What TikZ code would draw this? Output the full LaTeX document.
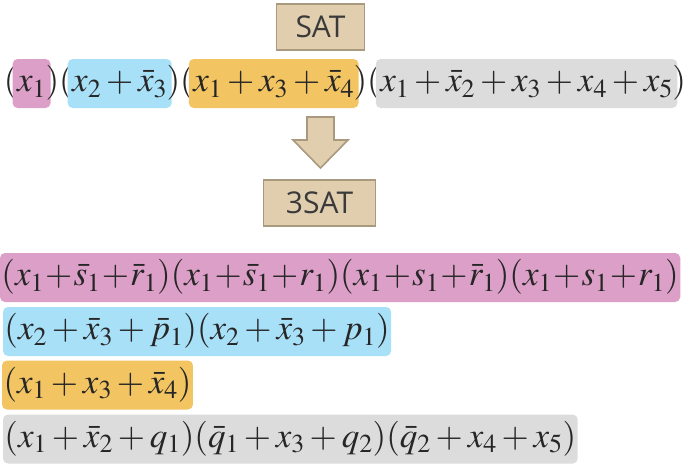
\documentclass[tikz,border=0pt]{standalone}
\usepackage{mathptmx}
\usepackage[no-math]{fontspec}
\newfontfamily\labelfont{Open Sans}
\usetikzlibrary{positioning}

\definecolor{tanfill}{HTML}{E0CEAF}
\definecolor{tanline}{HTML}{A8997F}
\definecolor{labelgray}{HTML}{3A3A3A}
\definecolor{mathgray}{HTML}{262626}
\definecolor{pinkhl}{HTML}{DC9FC7}
\definecolor{bluehl}{HTML}{A8E0F8}
\definecolor{orangehl}{HTML}{F2C462}
\definecolor{grayhl}{HTML}{DCDCDC}

% tight plus for the long first row
\newcommand{\tplus}{\kern-3.7pt+\kern-3.7pt}

\tikzset{
  probbox/.style={fill=tanfill,draw=tanline,line width=1.6pt,text=labelgray,
                  font=\labelfont\fontsize{30}{36}\selectfont,inner sep=0pt,
                  minimum height=46pt},
  clause/.style={inner sep=0pt,outer sep=0pt,text=mathgray,
                 font=\fontsize{35}{42}\selectfont,text height=26pt,text depth=9.5pt},
  hl/.style={clause,rounded corners=5pt,inner xsep=1.5pt,inner ysep=6.75pt},
  tophl/.style={hl,inner xsep=4.5pt},
  reduce/.style={fill=tanfill,draw=tanline,line width=1.6pt,line join=miter}
}

\begin{document}
\begin{tikzpicture}[x=1pt,y=-1pt]
\useasboundingbox (0,0) rectangle (690,464);

\node[probbox,minimum width=88pt] (sat) at (320.5,27) {SAT};

% original formula
\node[clause,anchor=west] (p0) at (4,83.5) {$($};
\node[tophl,fill=pinkhl,right=-5pt of p0] (c1) {$x_1$};
\node[clause,right=-5pt of c1] (p1) {$)($};
\node[tophl,fill=bluehl,right=-5pt of p1] (c2) {$x_2+\bar{x}_3$};
\node[clause,right=-5pt of c2] (p2) {$)($};
\node[tophl,fill=orangehl,right=-5pt of p2] (c3) {$x_1+x_3+\bar{x}_4$};
\node[clause,right=-5pt of c3] (p3) {$)($};
\node[tophl,fill=grayhl,right=-5pt of p3] (c4) {$x_1+\bar{x}_2+x_3+x_4+x_5$};
\node[clause,right=-5pt of c4] (p4) {$)$};

% reduction arrow
\coordinate (tip) at (320.5,168);
\draw[reduce] (tip) -- ++(-27.5,-28) -- ++(14,0) -- ++(0,-23) -- ++(27,0)
  -- ++(0,23) -- ++(14,0) -- cycle;

\node[probbox,minimum width=112pt] (tsat) at (319.5,203) {3SAT};

% 3SAT formula
\node[hl,fill=pinkhl,anchor=west] (r1) at (0,277.5)
  {$(x_1\tplus\bar{s}_1\tplus\bar{r}_1)(x_1\tplus\bar{s}_1\tplus r_1)(x_1\tplus s_1\tplus\bar{r}_1)(x_1\tplus s_1\tplus r_1)$};
\node[hl,fill=bluehl,anchor=west] (r2) at (3,331.5)
  {$(x_2+\bar{x}_3+\bar{p}_1)(x_2+\bar{x}_3+p_1)$};
\node[hl,fill=orangehl,anchor=west] (r3) at (2,385)
  {$(x_1+x_3+\bar{x}_4)$};
\node[hl,fill=grayhl,anchor=west] (r4) at (3,439)
  {$(x_1+\bar{x}_2+q_1)(\bar{q}_1+x_3+q_2)(\bar{q}_2+x_4+x_5)$};
\end{tikzpicture}
\end{document}
